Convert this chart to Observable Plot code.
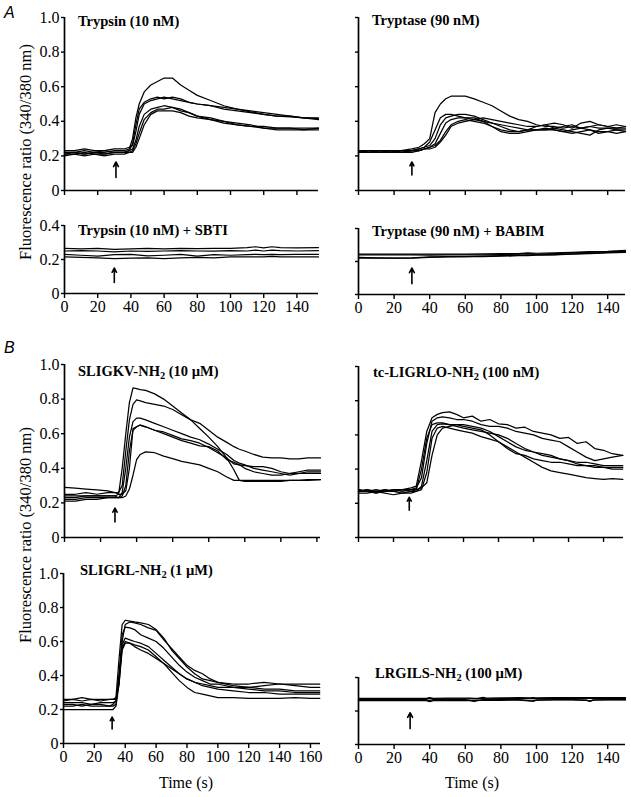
<!DOCTYPE html>
<html><head><meta charset="utf-8">
<script src="https://cdn.jsdelivr.net/npm/d3@7"></script>
<script src="https://cdn.jsdelivr.net/npm/@observablehq/plot@0.6"></script>
<style>
body{margin:0;background:#fff}
#fig{position:relative;width:631px;height:797px;overflow:hidden;font-family:"Liberation Serif","Times New Roman",serif;color:#000;background:#fff}
.t{position:absolute;white-space:nowrap;line-height:1}
.title{font-weight:bold;font-size:14.5px}
.title sub{font-size:0.72em;vertical-align:-0.3em;line-height:0}
.ylab{font-size:16.5px;transform:translate(-50%,-50%) rotate(-90deg)}
.sec{font-family:"Liberation Sans",Arial,sans-serif;font-style:italic;font-size:16px}
.xlab{font-size:16px;transform:translateX(-50%)}
</style></head>
<body><div id="fig"></div>
<script>
// ---------- data ----------
const yTicksFull = [0, 0.2, 0.4, 0.6, 0.8, 1.0];
const yTicksShort = [0, 0.2, 0.4];
const xTicks140 = [0, 20, 40, 60, 80, 100, 120, 140];
const xTicks160 = [0, 20, 40, 60, 80, 100, 120, 140, 160];

const titles = ["Trypsin (10 nM)", "Tryptase (90 nM)", "Trypsin (10 nM) + SBTI", "Tryptase (90 nM) + BABIM",
  "SLIGKV-NH<sub>2</sub> (10 µM)", "tc-LIGRLO-NH<sub>2</sub> (100 nM)", "SLIGRL-NH<sub>2</sub> (1 µM)", "LRGILS-NH<sub>2</sub> (100 µM)"];

// Trypsin (10 nM)
const trypsinTime = [0,6,12,18,24,30,36,39,41,43,45,48,52,56,60,65,70,75,80,88,96,104,112,120,128,136,144,153];
const trypsinSeries = [
  [.22,.22,.23,.22,.22,.23,.23,.24,.30,.42,.50,.57,.61,.63,.65,.65,.61,.58,.55,.52,.49,.47,.455,.44,.43,.425,.42,.415],
  [.21,.22,.21,.22,.21,.22,.22,.23,.27,.38,.47,.51,.53,.54,.53,.54,.53,.51,.50,.49,.48,.47,.46,.45,.44,.43,.42,.42],
  [.23,.23,.24,.23,.23,.24,.24,.25,.26,.34,.44,.50,.52,.53,.54,.53,.52,.51,.50,.49,.47,.46,.45,.44,.43,.43,.42,.41],
  [.20,.21,.20,.21,.20,.21,.21,.22,.23,.27,.33,.41,.45,.47,.47,.48,.46,.45,.43,.41,.39,.38,.37,.36,.36,.36,.35,.36],
  [.22,.22,.21,.22,.23,.22,.22,.23,.24,.29,.37,.44,.47,.48,.49,.48,.47,.45,.43,.42,.40,.38,.37,.37,.36,.36,.36,.36],
  [.21,.21,.22,.21,.21,.22,.22,.22,.22,.25,.30,.38,.44,.46,.46,.46,.45,.43,.42,.41,.40,.39,.38,.36,.35,.35,.35,.35]
];
// Tryptase (90 nM)
const tryptaseTime = [0,6,12,18,24,30,34,37,40,43,46,49,52,56,60,65,70,75,80,85,90,95,100,105,110,115,120,125,130,135,140,145,150];
const tryptaseSeries = [
  [.23,.23,.23,.23,.23,.24,.25,.27,.30,.45,.50,.53,.545,.545,.545,.53,.51,.49,.46,.43,.41,.40,.38,.37,.37,.36,.37,.36,.37,.36,.36,.36,.36],
  [.22,.22,.22,.22,.23,.23,.24,.25,.28,.35,.42,.44,.44,.43,.42,.41,.40,.39,.38,.37,.36,.35,.35,.35,.36,.37,.38,.36,.37,.38,.37,.36,.37],
  [.23,.23,.22,.23,.22,.23,.24,.25,.26,.30,.38,.42,.43,.44,.44,.43,.41,.39,.37,.35,.34,.35,.37,.38,.39,.38,.36,.39,.40,.38,.37,.38,.37],
  [.22,.22,.23,.22,.22,.22,.23,.24,.25,.27,.33,.39,.41,.42,.42,.42,.40,.37,.34,.33,.33,.34,.35,.36,.35,.34,.35,.36,.35,.33,.34,.35,.34],
  [.23,.22,.22,.22,.23,.23,.23,.24,.25,.26,.29,.34,.38,.40,.41,.40,.39,.37,.35,.34,.34,.35,.35,.35,.35,.34,.33,.34,.35,.34,.34,.33,.34],
  [.22,.23,.22,.23,.22,.23,.23,.24,.24,.25,.28,.32,.37,.39,.40,.41,.42,.41,.40,.39,.38,.37,.37,.38,.36,.35,.34,.33,.32,.35,.36,.35,.35]
];
// Trypsin + SBTI
const sbtiTime = [0,10,20,30,40,50,60,70,80,90,100,110,115,120,125,130,140,153];
const sbtiSeries = [
  [.265,.262,.265,.26,.262,.265,.262,.265,.264,.265,.266,.27,.275,.268,.275,.27,.268,.27],
  [.25,.252,.25,.245,.25,.248,.25,.252,.25,.25,.252,.25,.255,.25,.255,.252,.25,.252],
  [.23,.225,.22,.228,.23,.222,.225,.23,.22,.228,.225,.228,.23,.228,.23,.228,.23,.23],
  [.215,.212,.21,.205,.208,.21,.205,.21,.212,.21,.215,.215,.215,.215,.218,.215,.215,.215]
];
// Tryptase + BABIM
const babimTime = [0,10,20,30,40,50,60,70,80,90,95,100,110,120,130,140,150];
const babimSeries = [
  [.245,.245,.245,.245,.245,.245,.245,.246,.247,.248,.252,.25,.252,.256,.26,.262,.268],
  [.22,.22,.22,.22,.225,.228,.23,.23,.232,.235,.235,.238,.24,.244,.248,.252,.256],
  [.24,.24,.24,.24,.238,.24,.24,.24,.242,.245,.248,.245,.248,.252,.255,.26,.262],
  [.225,.222,.22,.222,.228,.23,.23,.232,.235,.238,.24,.24,.242,.246,.25,.255,.258]
];
// SLIGKV-NH2
const sligkvTime = [0,6,12,18,24,28,30,32,34,36,38,40,42,45,50,55,60,65,70,75,80,85,90,94,97,100,105,110,115,120,125,130,135,142];
const sligkvSeries = [
  [.23,.23,.24,.24,.24,.24,.25,.40,.60,.78,.865,.86,.855,.85,.83,.80,.76,.72,.68,.63,.58,.525,.46,.39,.33,.325,.325,.325,.325,.325,.33,.33,.33,.335],
  [.25,.25,.26,.25,.26,.26,.26,.30,.50,.68,.77,.795,.79,.78,.77,.76,.74,.71,.68,.66,.62,.58,.55,.525,.51,.50,.48,.465,.46,.46,.455,.455,.46,.46],
  [.22,.22,.23,.23,.23,.23,.23,.26,.40,.58,.67,.69,.69,.68,.66,.64,.62,.60,.58,.565,.54,.51,.48,.445,.43,.42,.40,.39,.38,.37,.36,.37,.38,.38],
  [.21,.21,.22,.22,.23,.23,.23,.24,.30,.50,.62,.64,.65,.64,.62,.61,.59,.57,.56,.545,.52,.49,.46,.425,.42,.415,.41,.41,.40,.38,.37,.37,.37,.37],
  [.29,.285,.28,.275,.27,.26,.25,.25,.27,.40,.63,.64,.65,.64,.62,.60,.58,.56,.545,.53,.525,.50,.45,.435,.42,.40,.38,.37,.36,.36,.37,.38,.39,.39],
  [.24,.24,.24,.24,.24,.24,.23,.23,.24,.28,.36,.45,.48,.495,.49,.47,.456,.44,.43,.42,.40,.38,.35,.33,.33,.33,.33,.33,.33,.33,.33,.33,.335,.335]
];
// tc-LIGRLO-NH2
const ligrloTime = [0,5,10,15,20,25,30,33,36,39,42,45,48,52,56,60,65,70,75,80,85,90,95,100,105,110,115,120,125,130,135,140,145,151];
const ligrloSeries = [
  [.27,.28,.26,.28,.27,.28,.29,.30,.45,.62,.70,.72,.73,.735,.72,.70,.71,.68,.69,.665,.66,.64,.645,.62,.61,.60,.58,.585,.55,.56,.52,.51,.49,.48],
  [.28,.27,.28,.27,.28,.27,.28,.29,.35,.55,.68,.70,.705,.70,.69,.69,.68,.66,.65,.65,.64,.62,.61,.60,.58,.57,.56,.53,.50,.47,.45,.46,.47,.48],
  [.27,.27,.26,.27,.27,.26,.27,.27,.30,.45,.62,.66,.665,.66,.66,.65,.64,.63,.60,.56,.52,.49,.48,.46,.45,.44,.44,.43,.42,.42,.41,.41,.41,.41],
  [.26,.26,.27,.26,.25,.26,.26,.27,.28,.38,.58,.64,.65,.64,.63,.62,.61,.59,.575,.56,.53,.50,.47,.44,.41,.39,.38,.37,.36,.35,.345,.34,.345,.34],
  [.27,.28,.27,.27,.28,.28,.27,.28,.29,.32,.48,.60,.64,.65,.66,.66,.65,.64,.62,.59,.56,.53,.51,.50,.48,.47,.46,.45,.44,.44,.43,.42,.42,.42],
  [.28,.27,.27,.28,.27,.28,.28,.28,.40,.58,.66,.67,.67,.66,.65,.64,.63,.62,.61,.60,.58,.55,.52,.50,.49,.48,.46,.45,.43,.42,.42,.41,.40,.40]
];
// SLIGRL-NH2
const sligrlTime = [0,6,12,18,24,30,32,34,36,38,40,43,46,50,55,60,65,70,75,80,85,90,95,100,110,120,130,140,150,160,166];
const sligrlSeries = [
  [.25,.26,.25,.26,.25,.26,.26,.27,.50,.70,.725,.72,.715,.71,.70,.67,.62,.55,.50,.45,.41,.38,.37,.36,.34,.33,.34,.35,.35,.35,.35],
  [.26,.26,.27,.26,.26,.26,.26,.26,.35,.60,.70,.715,.71,.70,.68,.665,.61,.56,.51,.46,.43,.41,.38,.36,.35,.35,.36,.35,.34,.33,.33],
  [.24,.24,.24,.23,.24,.24,.24,.25,.40,.64,.685,.68,.67,.64,.62,.60,.56,.51,.46,.42,.39,.37,.35,.35,.33,.32,.31,.31,.30,.30,.30],
  [.22,.22,.23,.22,.22,.22,.23,.25,.40,.58,.62,.61,.60,.59,.57,.53,.49,.45,.41,.38,.36,.34,.33,.32,.31,.30,.30,.29,.29,.29,.29],
  [.20,.20,.20,.20,.20,.20,.20,.22,.35,.55,.59,.59,.58,.57,.55,.51,.47,.42,.37,.33,.30,.29,.28,.27,.27,.265,.265,.265,.27,.265,.265],
  [.23,.23,.22,.23,.23,.22,.22,.23,.38,.56,.60,.59,.57,.55,.53,.50,.47,.44,.41,.38,.36,.35,.34,.33,.33,.33,.32,.32,.31,.31,.31]
];
// LRGILS-NH2
const lrgilsTime = [0,10,20,30,38,40,42,50,60,63,65,67,70,72,80,90,96,98,100,110,120,128,130,132,140,150];
const lrgilsSeries = [
  [.275,.275,.275,.275,.276,.28,.276,.277,.277,.277,.276,.276,.282,.277,.278,.28,.279,.28,.279,.28,.28,.28,.28,.28,.28,.28],
  [.268,.268,.268,.268,.268,.262,.268,.268,.268,.262,.258,.262,.268,.268,.268,.268,.262,.258,.265,.268,.268,.265,.258,.265,.268,.268],
  [.272,.272,.272,.272,.272,.276,.272,.272,.272,.272,.272,.272,.276,.272,.274,.276,.274,.274,.274,.276,.276,.276,.276,.276,.276,.276],
  [.262,.262,.262,.262,.262,.256,.262,.262,.262,.262,.262,.264,.264,.264,.264,.265,.26,.262,.265,.266,.266,.264,.26,.266,.266,.266]
];
// agonist addition arrows (time, ratio from, ratio to)
const arrowTimes = [31, 30, 30, 30, 28, 29, 31.5, 29];
const arrowFrom = [0.075, 0.09, 0.065, 0.065, 0.09, 0.16, 0.085, 0.095];
const arrowTo = [0.165, 0.165, 0.15, 0.16, 0.17, 0.235, 0.155, 0.19];

// ---------- layout ----------
const fig = document.getElementById("fig");
const FONT = "'Liberation Serif','Times New Roman',serif";
const fmtY = d => d === 0 ? "0" : d.toFixed(1);

function panel(i, p) {
  const mL = 62, mR = 14, mT = 12, mB = 34;
  const W = p.x1 - p.x0 + mL + mR, H = p.y1 - p.y0 + mT + mB;
  const rows = p.series.flatMap((vals, s) => vals.map((v, j) => ({t: p.time[j], v, s})));
  const arrow = [{t: arrowTimes[i], from: arrowFrom[i], to: arrowTo[i]}];
  const svg = Plot.plot({
    width: W, height: H, marginLeft: mL, marginRight: mR, marginTop: mT, marginBottom: mB,
    x: {domain: p.xDomain}, y: {domain: p.yDomain},
    style: {fontFamily: FONT, fontSize: "16px", background: "transparent", overflow: "visible", color: "black"},
    marks: [
      Plot.axisY(p.yTicks, {tickSize: 3, tickPadding: 2, tickFormat: fmtY, label: null, fill: p.yLabels ? "black" : "none", stroke: "black", strokeWidth: 1.4}),
      Plot.axisX(p.xTicks, {tickSize: 5, tickPadding: 2, tickFormat: d => String(d), label: null, fill: p.xLabels ? "black" : "none", stroke: "black", strokeWidth: 1.4}),
      Plot.ruleX([0], {stroke: "black", strokeWidth: 1.7}),
      Plot.ruleY([0], {stroke: "black", strokeWidth: 1.7}),
      Plot.line(rows, {x: "t", y: "v", z: "s", stroke: "black", strokeWidth: 1.25}),
      Plot.arrow(arrow, {x1: "t", x2: "t", y1: "from", y2: "to", stroke: "black", strokeWidth: 1.6, headLength: 9, headAngle: 55})
    ]
  });
  const d = document.createElement("div");
  d.style.cssText = `position:absolute;left:${p.x0 - mL}px;top:${p.y0 - mT}px;width:${W}px;height:${H}px;`;
  d.appendChild(svg);
  fig.appendChild(d);
}

function text(html, cls, x, baseline, size) {
  const d = document.createElement("div");
  d.className = "t " + cls;
  d.innerHTML = html;
  d.style.left = x + "px";
  d.style.top = (baseline - 0.837 * size) + "px";
  fig.appendChild(d);
}

const panels = [
  {time: trypsinTime, series: trypsinSeries, x0: 64, x1: 318, y0: 17, y1: 190, xDomain: [0, 153], yDomain: [0, 1], yTicks: yTicksFull, yLabels: true, xTicks: xTicks140, xLabels: false},
  {time: tryptaseTime, series: tryptaseSeries, x0: 358, x1: 625, y0: 17, y1: 190, xDomain: [0, 150], yDomain: [0, 1], yTicks: yTicksFull, yLabels: false, xTicks: xTicks140, xLabels: false},
  {time: sbtiTime, series: sbtiSeries, x0: 64, x1: 318, y0: 225, y1: 293, xDomain: [0, 153], yDomain: [0, 0.4], yTicks: yTicksShort, yLabels: true, xTicks: xTicks140, xLabels: true},
  {time: babimTime, series: babimSeries, x0: 358, x1: 625, y0: 228, y1: 294, xDomain: [0, 150], yDomain: [0, 0.4], yTicks: yTicksShort, yLabels: false, xTicks: xTicks140, xLabels: true},
  {time: sligkvTime, series: sligkvSeries, x0: 64, x1: 320, y0: 364, y1: 537, xDomain: [0, 142], yDomain: [0, 1], yTicks: yTicksFull, yLabels: true, xTicks: xTicks140, xLabels: false},
  {time: ligrloTime, series: ligrloSeries, x0: 358, x1: 623, y0: 366, y1: 537, xDomain: [0, 151.4], yDomain: [0, 1], yTicks: yTicksFull, yLabels: false, xTicks: xTicks140, xLabels: false},
  {time: sligrlTime, series: sligrlSeries, x0: 63, x1: 320, y0: 573, y1: 743, xDomain: [0, 166.5], yDomain: [0, 1], yTicks: yTicksFull, yLabels: true, xTicks: xTicks160, xLabels: true},
  {time: lrgilsTime, series: lrgilsSeries, x0: 358, x1: 625, y0: 677, y1: 744, xDomain: [0, 150], yDomain: [0, 0.4], yTicks: yTicksShort, yLabels: false, xTicks: xTicks140, xLabels: true}
];
panels.forEach((p, i) => panel(i, p));

// panel titles
const titlePos = [[78, 26], [372, 25], [78, 235], [372, 236], [78, 376], [373, 377], [80, 575], [375, 678]];
titles.forEach((t, i) => text(t, "title", titlePos[i][0], titlePos[i][1], 14.5));

// section letters
text("A", "sec", 4, 18, 16);
text("B", "sec", 4, 353, 16);

// y-axis labels
[[26, 152], [26, 535]].forEach(([x, y]) => {
  const d = document.createElement("div");
  d.className = "t ylab";
  d.textContent = "Fluorescence ratio (340/380 nm)";
  d.style.left = x + "px"; d.style.top = y + "px";
  fig.appendChild(d);
});
// x-axis labels
text("Time (s)", "xlab", 186, 788, 16);
text("Time (s)", "xlab", 472, 788, 16);
</script>
</body></html>
